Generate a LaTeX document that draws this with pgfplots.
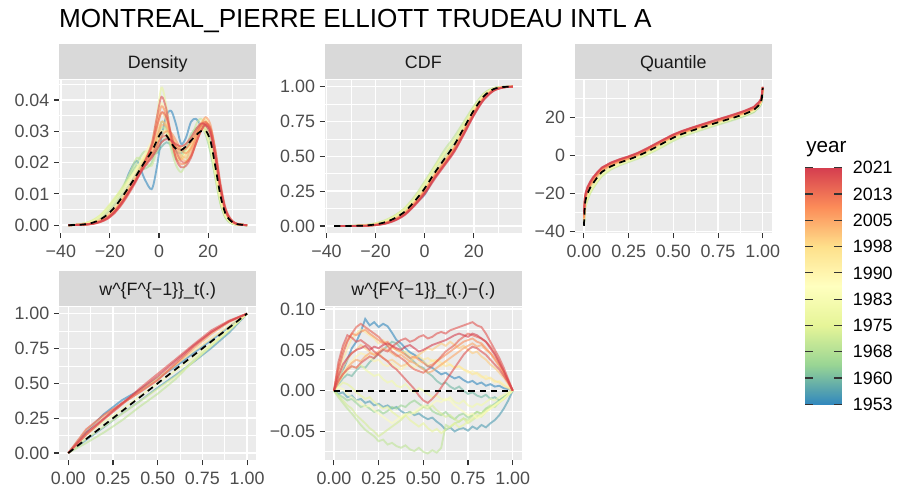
\documentclass[border=0pt]{standalone}
\usepackage{fontspec}
\setmainfont{Liberation Sans}
\usepackage{pgfplots}
\pgfplotsset{compat=1.18}
\usepackage{pgfplotstable}

% spectral palette, 1953 -> 2021
\definecolor{c0}{RGB}{50,136,189}
\definecolor{c1}{RGB}{153,213,148}
\definecolor{c2}{RGB}{230,245,152}
\definecolor{c3}{RGB}{255,255,191}
\definecolor{c4}{RGB}{254,224,139}
\definecolor{c5}{RGB}{252,141,89}
\definecolor{c6}{RGB}{213,62,79}
\definecolor{ggbg}{RGB}{235,235,235}
\definecolor{ggstrip}{RGB}{217,217,217}
\definecolor{gg33}{RGB}{51,51,51}
\definecolor{gg4d}{RGB}{77,77,77}
\definecolor{gg1a}{RGB}{26,26,26}

\newcommand\ticksize{\fontsize{13.4}{15}\selectfont}

\pgfplotsset{
  gg/.style={
    scale only axis, width=147.5pt, height=115pt, anchor=south west,
    axis background/.style={fill=ggbg},
    axis line style={draw=none},
    grid=both,
    major grid style={white, line width=1.1pt},
    minor grid style={white, line width=0.55pt},
    tick align=outside, tick pos=left,
    major tick length=4pt, minor tick length=0pt,
    tick style={gg33, line width=0.8pt},
    tick label style={font=\ticksize, text=gg4d, inner sep=0pt},
    xticklabel shift=4.8pt, yticklabel shift=3.3pt,
    scaled ticks=false,
    every axis title/.style={at={(0.5,1)}, anchor=south, fill=ggstrip,
      minimum width=147.5pt, minimum height=26.5pt, inner sep=0pt,
      text=gg1a, font=\ticksize, text height=9.6pt, text depth=0pt},
    no markers,
  },
  yr/.style={line width=1.4pt, opacity=0.6},
  mn/.style={black, line width=1.3pt, dash pattern=on 4.8pt off 3.6pt},
}

% density per year
\pgfplotstableread{
x y1 y2 y3 y4 y5 y6 y7 y8 y9 y10 y11 y12 y13 y14 mean
-36.9 0 0 0 0 0 0 0 0 0 0 0 0 0 0 0
-33 .0001 .0001 .0002 .0002 .0002 .0001 .0001 .0001 .0001 .0001 .0001 .0001 .0001 .0001 .0001
-30 .0003 .0004 .0005 .0006 .0007 .0005 .0004 .0003 .0003 .0002 .0002 .0002 .0002 .0002 .0003
-27 .0008 .0010 .0012 .0015 .0016 .0013 .0010 .0008 .0007 .0006 .0005 .0005 .0004 .0005 .0008
-24 .0020 .0022 .0025 .0030 .0032 .0028 .0022 .0018 .0016 .0013 .0011 .0012 .0010 .0011 .0018
-21 .0040 .0040 .0045 .0055 .0058 .0050 .0042 .0035 .0030 .0026 .0022 .0024 .0020 .0023 .0034
-18 .0070 .0065 .0072 .0085 .0088 .0078 .0070 .0060 .0052 .0048 .0042 .0045 .0040 .0044 .0058
-15 .0110 .0095 .0105 .0120 .0118 .0110 .0105 .0092 .0082 .0080 .0072 .0075 .0070 .0074 .0090
-12 .0170 .0130 .0150 .0165 .0150 .0148 .0142 .0130 .0120 .0118 .0110 .0112 .0108 .0110 .0125
-9 .0205 .0170 .0190 .0215 .0180 .0185 .0180 .0170 .0160 .0155 .0150 .0150 .0150 .0148 .0162
-6 .0150 .0210 .0180 .0200 .0215 .0220 .0225 .0215 .0205 .0190 .0200 .0190 .0200 .0185 .0200
-3 .0115 .0225 .0200 .0190 .0260 .0250 .0270 .0245 .0250 .0230 .0250 .0225 .0260 .0215 .0235
-1 .0180 .0230 .0260 .0240 .0340 .0275 .0330 .0270 .0300 .0275 .0320 .0255 .0340 .0240 .0268
1 .0280 .0250 .0330 .0310 .0440 .0300 .0390 .0300 .0360 .0320 .0380 .0280 .0410 .0265 .0297
3 .0350 .0265 .0310 .0300 .0380 .0290 .0350 .0300 .0330 .0315 .0350 .0285 .0370 .0275 .0287
5 .0365 .0255 .0250 .0240 .0280 .0265 .0270 .0280 .0260 .0280 .0270 .0270 .0280 .0270 .0262
7 .0320 .0235 .0210 .0190 .0225 .0250 .0220 .0260 .0220 .0245 .0215 .0250 .0210 .0258 .0243
9 .0260 .0230 .0215 .0170 .0220 .0250 .0210 .0245 .0210 .0215 .0195 .0240 .0185 .0252 .0240
11 .0280 .0245 .0250 .0200 .0240 .0260 .0230 .0245 .0225 .0205 .0200 .0245 .0190 .0260 .0252
13 .0330 .0275 .0290 .0265 .0270 .0280 .0265 .0260 .0250 .0220 .0225 .0265 .0215 .0280 .0270
15 .0340 .0305 .0310 .0320 .0300 .0300 .0300 .0285 .0285 .0260 .0270 .0295 .0260 .0305 .0287
17 .0320 .0320 .0315 .0340 .0310 .0310 .0330 .0300 .0320 .0300 .0315 .0320 .0300 .0325 .0300
19 .0300 .0315 .0290 .0310 .0300 .0295 .0340 .0310 .0335 .0320 .0330 .0330 .0320 .0320 .0302
21 .0250 .0270 .0230 .0240 .0250 .0245 .0300 .0280 .0300 .0305 .0305 .0300 .0300 .0290 .0268
23 .0170 .0180 .0150 .0150 .0165 .0160 .0195 .0195 .0210 .0230 .0225 .0215 .0225 .0215 .0185
25 .0085 .0085 .0070 .0070 .0080 .0080 .0090 .0100 .0110 .0125 .0120 .0115 .0125 .0120 .0095
27 .0035 .0030 .0025 .0025 .0030 .0030 .0035 .0040 .0045 .0050 .0050 .0048 .0052 .0050 .0038
29 .0012 .0010 .0008 .0008 .0010 .0010 .0012 .0015 .0017 .0018 .0018 .0018 .0020 .0019 .0015
31 .0004 .0003 .0002 .0002 .0003 .0003 .0004 .0005 .0006 .0006 .0006 .0006 .0007 .0006 .0005
33 .0001 .0001 .0001 .0001 .0001 .0001 .0001 .0002 .0002 .0002 .0002 .0002 .0002 .0002 .0002
35.9 0 0 0 0 0 0 0 0 0 0 0 0 0 0 0
}\dens

% more years of the density
\pgfplotstableread{
x z1 z2 z3 z4
-36.9 0 0 0 0
-33 .0001 .0001 .0001 .0002
-30 .0003 .0002 .0002 .0006
-27 .0007 .0005 .0004 .0014
-24 .0015 .0012 .0010 .0028
-21 .0029 .0025 .0021 .0050
-18 .0050 .0046 .0040 .0080
-15 .0080 .0076 .0068 .0115
-12 .0118 .0114 .0104 .0160
-9 .0158 .0152 .0145 .0200
-6 .0200 .0190 .0195 .0235
-3 .0240 .0220 .0250 .0230
-1 .0285 .0250 .0310 .0235
1 .0330 .0285 .0360 .0265
3 .0320 .0300 .0345 .0280
5 .0290 .0295 .0290 .0270
7 .0255 .0270 .0235 .0250
9 .0225 .0240 .0205 .0235
11 .0215 .0230 .0200 .0240
13 .0240 .0245 .0220 .0265
15 .0280 .0280 .0260 .0295
17 .0315 .0320 .0300 .0315
19 .0325 .0345 .0325 .0300
21 .0300 .0320 .0310 .0250
23 .0220 .0235 .0240 .0160
25 .0115 .0125 .0135 .0075
27 .0046 .0052 .0058 .0028
29 .0017 .0019 .0022 .0009
31 .0006 .0006 .0007 .0003
33 .0002 .0002 .0002 .0001
35.9 0 0 0 0
}\densb

% cdf per year
\pgfplotstableread{
x p1 p2 p3 p4 p5 p6 p7 p8 p9 p10 p11 mean
-36.9 0 0 0 0 0 0 0 0 0 0 0 0
-32 .0003 .0004 .0005 .0005 .0004 .0003 .0002 .0002 .0002 .0002 .0001 .0003
-28 .001 .0015 .002 .002 .0015 .001 .0008 .0007 .0006 .0006 .0005 .001
-24 .004 .006 .008 .007 .005 .004 .003 .0025 .002 .002 .002 .004
-20 .013 .016 .020 .018 .014 .012 .010 .009 .008 .007 .007 .012
-16 .030 .036 .042 .040 .032 .028 .024 .022 .020 .019 .018 .028
-12 .062 .068 .078 .075 .064 .058 .052 .048 .045 .043 .042 .058
-8 .110 .118 .132 .128 .112 .105 .097 .092 .088 .085 .084 .105
-4 .165 .195 .215 .205 .188 .178 .170 .163 .158 .155 .152 .180
0 .225 .285 .320 .300 .280 .268 .262 .252 .245 .240 .235 .270
4 .355 .395 .430 .420 .390 .375 .370 .360 .355 .345 .342 .380
8 .480 .500 .545 .520 .490 .475 .465 .455 .448 .440 .438 .480
12 .590 .600 .640 .615 .590 .575 .565 .555 .548 .540 .535 .580
16 .720 .720 .750 .735 .715 .700 .690 .680 .672 .668 .662 .705
20 .850 .845 .860 .850 .838 .828 .820 .810 .805 .800 .795 .830
24 .945 .940 .950 .945 .935 .928 .922 .915 .912 .910 .905 .930
28 .988 .986 .990 .988 .984 .980 .978 .975 .974 .972 .970 .982
32 .998 .998 .998 .998 .997 .996 .996 .995 .995 .994 .994 .997
35.9 1 1 1 1 1 1 1 1 1 1 1 1
}\cdf

\pgfplotstableread{
x p12 p13 p14 p15
-36.9 0 0 0 0
-32 .0002 .0002 .0001 .0005
-28 .0008 .0006 .0005 .0018
-24 .003 .0022 .0018 .0065
-20 .011 .0085 .0065 .017
-16 .026 .021 .017 .038
-12 .054 .046 .040 .072
-8 .100 .090 .080 .124
-4 .172 .160 .148 .200
0 .258 .250 .230 .305
4 .362 .352 .335 .415
8 .462 .450 .432 .515
12 .562 .550 .530 .610
16 .688 .676 .658 .728
20 .818 .808 .792 .848
24 .920 .914 .903 .943
28 .977 .974 .969 .988
32 .996 .995 .994 .998
35.9 1 1 1 1
}\cdfb

% quantile per year
\pgfplotstableread{
t q1 q2 q3 q4 q5 q6 q7 q8 q9 q10 q11 mean
0 -35 -36 -37 -36.5 -37 -36 -34 -33 -32 -31 -30 -37
.005 -27 -28 -29 -28.5 -27 -26 -25 -24 -23.5 -23 -22.5 -26
.01 -24 -25 -26.5 -26 -24 -23 -22 -21 -20.5 -20 -19.5 -23
.02 -21 -22 -23.5 -23 -21 -20 -19 -18.2 -17.5 -17 -16.5 -20
.035 -17.5 -18.5 -20 -19.5 -18 -17 -16 -15.2 -14.6 -14.2 -13.8 -17
.05 -15 -16 -17.5 -17 -15.8 -14.7 -13.8 -13.0 -12.4 -12 -11.6 -14.8
.075 -11.5 -12.5 -14 -13.5 -12.5 -11.4 -10.6 -10.0 -9.4 -9.1 -8.8 -11.5
.1 -8.5 -9.8 -11 -10.5 -9.6 -8.6 -7.9 -7.4 -6.9 -6.6 -6.4 -8.7
.15 -5.2 -6.5 -7.5 -7.0 -6.5 -5.7 -5.1 -4.7 -4.3 -4.0 -3.8 -5.8
.2 -3.0 -4.3 -5.2 -4.8 -4.4 -3.7 -3.2 -2.8 -2.5 -2.2 -2.0 -3.8
.25 -1.5 -2.6 -3.5 -3.0 -2.7 -2.1 -1.7 -1.3 -1.0 -0.7 -0.5 -2.2
.3 0.0 -0.9 -1.8 -1.4 -1.0 -0.3 0.1 0.5 0.8 1.0 1.3 -0.4
.35 1.8 1.2 0.2 0.6 1.2 1.9 2.4 2.8 3.1 3.3 3.6 1.8
.4 3.8 3.6 2.5 3.0 3.6 4.3 4.9 5.3 5.6 5.8 6.1 4.2
.45 6.0 6.2 5.0 5.6 6.2 6.9 7.5 7.9 8.2 8.4 8.6 6.8
.5 8.6 8.8 7.6 8.2 8.8 9.4 10.0 10.3 10.6 10.8 11.0 9.3
.55 10.8 10.8 9.8 10.4 10.9 11.4 11.9 12.2 12.5 12.7 12.9 11.3
.6 12.5 12.4 11.5 12.1 12.5 13.0 13.5 13.8 14.1 14.3 14.5 12.9
.65 14.0 13.9 13.1 13.7 14.0 14.5 15.0 15.3 15.6 15.8 16.0 14.4
.7 15.3 15.4 14.6 15.2 15.5 16.0 16.5 16.8 17.1 17.3 17.5 15.9
.75 16.7 16.9 16.1 16.7 17.0 17.5 18.0 18.3 18.6 18.8 19.0 17.4
.8 18.0 18.3 17.5 18.1 18.4 18.9 19.4 19.7 20.0 20.2 20.4 18.8
.85 19.5 19.7 19.0 19.6 19.9 20.3 20.8 21.1 21.4 21.7 21.9 20.2
.9 21.0 21.2 20.6 21.2 21.5 21.9 22.4 22.7 23.0 23.3 23.5 21.8
.95 23.0 23.2 22.6 23.2 23.5 23.9 24.4 24.7 25.0 25.3 25.5 23.8
.98 25.5 25.8 25.2 25.8 26.2 26.6 27.0 27.3 27.6 27.9 28.2 26.5
.99 27 27.5 26.8 27.4 27.8 28.2 28.5 28.8 29.1 29.4 29.7 28
.995 29 29.5 28.8 29.4 29.8 30.2 30.5 30.8 31 31.5 31.8 30
1 34 35 34.5 35 35.5 35.5 35.8 35.8 36 36 36 35.5
}\qnt

\pgfplotstableread{
t r12 r13 r14 r15
0 -34 -33 -30.5 -37
.005 -25 -24.5 -22.8 -28
.01 -22 -21.5 -19.8 -25.5
.02 -19 -18.5 -16.8 -22.5
.035 -16 -15.5 -14.0 -19
.05 -13.9 -13.3 -11.8 -16.6
.075 -10.7 -10.2 -9.0 -13.2
.1 -8.0 -7.6 -6.5 -10.2
.15 -5.2 -4.9 -3.9 -6.8
.2 -3.3 -3.0 -2.1 -4.6
.25 -1.8 -1.5 -0.6 -2.9
.3 0.0 0.3 1.2 -1.2
.35 2.3 2.6 3.5 0.8
.4 4.8 5.1 6.0 3.2
.45 7.4 7.7 8.5 5.8
.5 9.9 10.1 10.9 8.4
.55 11.8 12.0 12.8 10.6
.6 13.4 13.6 14.4 12.3
.65 14.9 15.1 15.9 13.8
.7 16.4 16.6 17.4 15.3
.75 17.9 18.1 18.9 16.8
.8 19.3 19.5 20.3 18.2
.85 20.7 20.9 21.8 19.7
.9 22.3 22.5 23.4 21.3
.95 24.3 24.5 25.4 23.3
.98 26.9 27.1 28.0 26.0
.99 28.4 28.6 29.5 27.6
.995 30.4 30.6 31.6 29.6
1 35.5 35.8 36 35
}\qntb

% w_t per year
\pgfplotstableread{
t w1 w2 w3 w4 w5 w6 w7 w8 w9 w10
0 0 0 0 0 0 0 0 0 0 0
.1 .152 .094 .072 .104 .130 .164 .134 .130 .170 .146
.2 .280 .187 .148 .192 .222 .268 .246 .242 .274 .250
.3 .379 .282 .234 .280 .310 .356 .350 .348 .355 .358
.4 .452 .372 .333 .370 .408 .448 .440 .464 .436 .454
.5 .536 .468 .425 .460 .500 .538 .526 .568 .522 .550
.6 .620 .558 .530 .548 .590 .634 .632 .672 .642 .660
.7 .717 .653 .662 .655 .684 .730 .748 .778 .762 .770
.8 .808 .753 .774 .770 .784 .822 .854 .880 .866 .868
.9 .905 .864 .880 .882 .888 .912 .940 .950 .946 .944
1 1 1 1 1 1 1 1 1 1 1
}\wt

% w_t - t per year
\pgfplotstableread{
t d1 d2 d3 d4 d5 d6 d7 d8 d9 d10 d11 d12 d13 d14 d15 d16 d17 d18
0 0 0 0 0 0 0 0 0 0 0 0 0 0 0 0 0 0 0
.025 .012 -.004 .008 -.005 -.008 -.006 .005 .010 .004 .012 .020 .015 .010 .030 .012 .025 .035 .018
.05 .025 -.002 .015 -.008 -.015 -.012 .010 .018 .002 .022 .038 .028 .020 .050 .020 .045 .055 .032
.075 .038 -.008 .020 -.012 -.022 -.018 .008 .024 -.004 .030 .052 .038 .028 .062 .026 .060 .068 .040
.1 .052 -.006 .018 -.010 -.028 -.022 .004 .030 -.008 .036 .064 .046 .034 .070 .030 .070 .065 .046
.125 .060 -.012 .025 -.015 -.035 -.030 -.002 .028 -.012 .042 .070 .050 .038 .068 .028 .078 .060 .050
.15 .072 -.010 .030 -.020 -.042 -.035 -.006 .032 -.015 .046 .075 .056 .036 .072 .034 .082 .062 .052
.175 .088 -.015 .028 -.018 -.048 -.040 -.010 .026 -.020 .044 .072 .052 .042 .075 .038 .078 .058 .055
.2 .080 -.013 .035 -.022 -.052 -.046 -.008 .022 -.018 .040 .068 .048 .046 .070 .042 .074 .054 .050
.225 .084 -.018 .040 -.026 -.056 -.050 -.014 .018 -.024 .036 .064 .044 .044 .066 .040 .070 .048 .054
.25 .078 -.016 .045 -.024 -.062 -.056 -.018 .020 -.028 .038 .058 .046 .048 .062 .046 .066 .044 .052
.275 .082 -.020 .050 -.028 -.060 -.052 -.022 .014 -.032 .032 .062 .040 .052 .058 .050 .060 .040 .056
.3 .079 -.018 .055 -.025 -.066 -.048 -.020 .010 -.036 .030 .056 .036 .050 .060 .048 .055 .036 .058
.325 .071 -.022 .060 -.020 -.064 -.044 -.026 .012 -.040 .034 .052 .038 .046 .054 .054 .048 .030 .055
.35 .062 -.020 .058 -.022 -.068 -.040 -.030 .006 -.036 .028 .050 .034 .042 .050 .058 .044 .026 .052
.375 .058 -.025 .052 -.018 -.070 -.036 -.034 .004 -.032 .026 .046 .030 .044 .048 .062 .040 .020 .050
.4 .052 -.028 .045 -.020 -.067 -.030 -.030 .008 -.028 .030 .048 .032 .040 .044 .064 .036 .014 .054
.425 .047 -.026 .040 -.015 -.072 -.026 -.036 .002 -.030 .032 .044 .036 .036 .040 .060 .030 .008 .056
.45 .044 -.030 .035 -.012 -.074 -.028 -.040 -.002 -.026 .028 .040 .040 .034 .042 .062 .026 .002 .052
.475 .040 -.028 .030 -.016 -.070 -.024 -.044 .003 -.022 .034 .042 .044 .030 .038 .066 .024 -.006 .048
.5 .036 -.032 .028 -.020 -.075 -.020 -.040 .000 -.018 .036 .038 .048 .026 .034 .068 .022 -.012 .050
.525 .030 -.035 .022 -.018 -.077 -.022 -.046 -.004 -.020 .032 .040 .052 .022 .030 .064 .026 -.015 .053
.55 .028 -.033 .018 -.025 -.073 -.018 -.050 -.008 -.016 .038 .036 .050 .024 .032 .066 .030 -.010 .056
.575 .024 -.038 .012 -.028 -.076 -.024 -.047 -.006 -.012 .034 .038 .054 .028 .036 .070 .036 -.004 .058
.6 .020 -.042 .008 -.030 -.070 -.028 -.052 -.010 -.014 .030 .034 .058 .032 .040 .072 .042 .004 .060
.625 .022 -.048 .010 -.026 -.042 -.032 -.048 -.012 -.010 .036 .030 .055 .036 .044 .070 .048 .012 .062
.65 .018 -.045 .005 -.032 -.045 -.030 -.044 -.008 -.012 .032 .032 .060 .040 .048 .074 .052 .020 .065
.675 .015 -.050 .002 -.035 -.040 -.035 -.040 -.014 -.018 .028 .028 .056 .044 .052 .076 .056 .028 .068
.7 .017 -.047 .005 -.030 -.038 -.038 -.045 -.016 -.022 .030 .030 .052 .048 .056 .078 .062 .036 .070
.725 .013 -.046 .000 -.028 -.034 -.034 -.042 -.012 -.026 .026 .026 .055 .052 .060 .080 .066 .044 .068
.75 .010 -.049 -.004 -.033 -.036 -.040 -.038 -.018 -.030 .022 .024 .050 .055 .062 .082 .070 .050 .066
.775 .012 -.044 -.002 -.030 -.030 -.036 -.034 -.020 -.028 .024 .020 .046 .058 .064 .084 .068 .054 .070
.8 .008 -.047 -.006 -.026 -.026 -.032 -.030 -.016 -.034 .020 .022 .048 .054 .060 .080 .066 .052 .068
.825 .010 -.042 -.008 -.028 -.028 -.028 -.032 -.018 -.030 .016 .018 .042 .056 .058 .078 .064 .048 .064
.85 .006 -.045 -.005 -.022 -.022 -.025 -.026 -.014 -.026 .018 .014 .038 .050 .052 .070 .060 .044 .060
.875 .008 -.040 -.010 -.020 -.018 -.020 -.022 -.010 -.022 .014 .016 .032 .046 .046 .060 .054 .038 .052
.9 .005 -.036 -.008 -.016 -.020 -.018 -.018 -.012 -.018 .010 .012 .028 .040 .038 .050 .046 .032 .044
.925 .006 -.030 -.012 -.012 -.014 -.014 -.014 -.008 -.014 .012 .010 .022 .032 .030 .040 .036 .026 .034
.95 .003 -.022 -.008 -.008 -.010 -.010 -.010 -.005 -.010 .008 .006 .016 .022 .020 .028 .024 .018 .024
.975 .002 -.012 -.004 -.004 -.005 -.005 -.004 -.002 -.005 .004 .003 .008 .012 .010 .014 .012 .010 .012
1 0 0 0 0 0 0 0 0 0 0 0 0 0 0 0 0 0 0
}\wdif

\begin{document}
\begin{tikzpicture}
\path[use as bounding box] (0,0) rectangle (672.75pt,-368.25pt);

% ---- Density
\begin{axis}[gg, at={(44.5pt,-174.75pt)},
  xmin=-40.6, xmax=39.5, ymin=-0.0025, ymax=0.0465,
  xtick={-40,-20,0,20}, xticklabels={−40,−20,0,20}, minor xtick={-30,-10,10,30},
  ytick={0,0.01,0.02,0.03,0.04}, yticklabels={0.00,0.01,0.02,0.03,0.04},
  minor ytick={0.005,0.015,0.025,0.035,0.045},
  title={Density}]
\addplot[yr, smooth, color=c0] table[x=x, y=y1] {\dens};
\addplot[yr, smooth, color=c1!53!c0] table[x=x, y=y2] {\dens};
\addplot[yr, smooth, color=c1] table[x=x, y=y3] {\dens};
\addplot[yr, smooth, color=c2!32!c1] table[x=x, y=z4] {\densb};
\addplot[yr, smooth, color=c2!59!c1] table[x=x, y=y4] {\dens};
\addplot[yr, smooth, color=c2!88!c3] table[x=x, y=y5] {\dens};
\addplot[yr, smooth, color=c3!65!c2] table[x=x, y=y6] {\dens};
\addplot[yr, smooth, color=c3!82!c4] table[x=x, y=y7] {\dens};
\addplot[yr, smooth, color=c4!71!c3] table[x=x, y=y8] {\dens};
\addplot[yr, smooth, color=c4!85!c5] table[x=x, y=y9] {\dens};
\addplot[yr, smooth, color=c5!41!c4] table[x=x, y=z1] {\densb};
\addplot[yr, smooth, color=c5!59!c4] table[x=x, y=y10] {\dens};
\addplot[yr, smooth, color=c5!85!c4] table[x=x, y=z2] {\densb};
\addplot[yr, smooth, color=c5] table[x=x, y=y11] {\dens};
\addplot[yr, smooth, color=c6!38!c5] table[x=x, y=y12] {\dens};
\addplot[yr, smooth, color=c6!56!c5] table[x=x, y=z3] {\densb};
\addplot[yr, smooth, color=c6!74!c5] table[x=x, y=y13] {\dens};
\addplot[yr, smooth, color=c6] table[x=x, y=y14] {\dens};
\addplot[mn, smooth] table[x=x, y=mean] {\dens};
\end{axis}

% ---- CDF
\begin{axis}[gg, at={(243.75pt,-174.75pt)},
  xmin=-40.6, xmax=39.5, ymin=-0.05, ymax=1.05,
  xtick={-40,-20,0,20}, xticklabels={−40,−20,0,20}, minor xtick={-30,-10,10,30},
  ytick={0,0.25,0.5,0.75,1}, yticklabels={0.00,0.25,0.50,0.75,1.00},
  minor ytick={0.125,0.375,0.625,0.875},
  title={CDF}]
\addplot[yr, smooth, color=c0] table[x=x, y=p1] {\cdf};
\addplot[yr, smooth, color=c1!79!c0] table[x=x, y=p2] {\cdf};
\addplot[yr, smooth, color=c1!50!c2] table[x=x, y=p3] {\cdf};
\addplot[yr, smooth, color=c2] table[x=x, y=p4] {\cdf};
\addplot[yr, smooth, color=c3!29!c2] table[x=x, y=p15] {\cdfb};
\addplot[yr, smooth, color=c3!82!c2] table[x=x, y=p5] {\cdf};
\addplot[yr, smooth, color=c4!53!c3] table[x=x, y=p6] {\cdf};
\addplot[yr, smooth, color=c4!85!c5] table[x=x, y=p7] {\cdf};
\addplot[yr, smooth, color=c5!53!c4] table[x=x, y=p12] {\cdfb};
\addplot[yr, smooth, color=c5!76!c4] table[x=x, y=p8] {\cdf};
\addplot[yr, smooth, color=c5] table[x=x, y=p13] {\cdfb};
\addplot[yr, smooth, color=c6!21!c5] table[x=x, y=p9] {\cdf};
\addplot[yr, smooth, color=c6!56!c5] table[x=x, y=p10] {\cdf};
\addplot[yr, smooth, color=c6!82!c5] table[x=x, y=p14] {\cdfb};
\addplot[yr, smooth, color=c6] table[x=x, y=p11] {\cdf};
\addplot[mn, smooth] table[x=x, y=mean] {\cdf};
\end{axis}

% ---- Quantile
\begin{axis}[gg, at={(431.25pt,-174.75pt)},
  xmin=-0.05, xmax=1.05, ymin=-40.8, ymax=39.8,
  xtick={0,0.25,0.5,0.75,1}, xticklabels={0.00,0.25,0.50,0.75,1.00},
  minor xtick={0.125,0.375,0.625,0.875},
  ytick={-40,-20,0,20}, yticklabels={−40,−20,0,20}, minor ytick={-30,-10,10,30},
  title={Quantile}]
\addplot[yr, color=c0] table[x=t, y=q1] {\qnt};
\addplot[yr, color=c1!79!c0] table[x=t, y=q2] {\qnt};
\addplot[yr, color=c1!50!c2] table[x=t, y=q3] {\qnt};
\addplot[yr, color=c2] table[x=t, y=q4] {\qnt};
\addplot[yr, color=c3!29!c2] table[x=t, y=r15] {\qntb};
\addplot[yr, color=c3!82!c2] table[x=t, y=q5] {\qnt};
\addplot[yr, color=c4!53!c3] table[x=t, y=q6] {\qnt};
\addplot[yr, color=c4!85!c5] table[x=t, y=q7] {\qnt};
\addplot[yr, color=c5!53!c4] table[x=t, y=r12] {\qntb};
\addplot[yr, color=c5!76!c4] table[x=t, y=q8] {\qnt};
\addplot[yr, color=c5] table[x=t, y=r13] {\qntb};
\addplot[yr, color=c6!21!c5] table[x=t, y=q9] {\qnt};
\addplot[yr, color=c6!56!c5] table[x=t, y=q10] {\qnt};
\addplot[yr, color=c6!82!c5] table[x=t, y=r14] {\qntb};
\addplot[yr, color=c6] table[x=t, y=q11] {\qnt};
\addplot[mn] table[x=t, y=mean] {\qnt};
\end{axis}

% ---- w_t
\begin{axis}[gg, at={(44.5pt,-345pt)},
  xmin=-0.05, xmax=1.05, ymin=-0.05, ymax=1.05,
  xtick={0,0.25,0.5,0.75,1}, xticklabels={0.00,0.25,0.50,0.75,1.00},
  minor xtick={0.125,0.375,0.625,0.875},
  ytick={0,0.25,0.5,0.75,1}, yticklabels={0.00,0.25,0.50,0.75,1.00},
  minor ytick={0.125,0.375,0.625,0.875},
  title={w\textasciicircum\{F\textasciicircum\{−1\}\}\_t(.)}]
\addplot[yr, color=c0] table[x=t, y=w1] {\wt};
\addplot[yr, color=c0!74!c1] table[x=t, y=w2] {\wt};
\addplot[yr, color=c1!50!c2] table[x=t, y=w3] {\wt};
\addplot[yr, color=c2!88!c3] table[x=t, y=w4] {\wt};
\addplot[yr, color=c3!47!c2] table[x=t, y=w5] {\wt};
\addplot[yr, color=c4!79!c3] table[x=t, y=w6] {\wt};
\addplot[yr, color=c5!68!c4] table[x=t, y=w7] {\wt};
\addplot[yr, color=c6!70!c5] table[x=t, y=w8] {\wt};
\addplot[yr, color=c6!56!c5] table[x=t, y=w9] {\wt};
\addplot[yr, color=c6] table[x=t, y=w10] {\wt};
\addplot[mn] coordinates {(0,0) (1,1)};
\end{axis}

% ---- w_t - t
\begin{axis}[gg, at={(243.75pt,-345pt)},
  xmin=-0.05, xmax=1.05, ymin=-0.085, ymax=0.103,
  xtick={0,0.25,0.5,0.75,1}, xticklabels={0.00,0.25,0.50,0.75,1.00},
  minor xtick={0.125,0.375,0.625,0.875},
  ytick={-0.05,0,0.05,0.1}, yticklabels={−0.05,0.00,0.05,0.10},
  minor ytick={-0.075,-0.025,0.025,0.075},
  title={w\textasciicircum\{F\textasciicircum\{−1\}\}\_t(.)−(.)}]
\addplot[yr, color=c0] table[x=t, y=d1] {\wdif};
\addplot[yr, color=c0!74!c1] table[x=t, y=d2] {\wdif};
\addplot[yr, color=c1!62!c0] table[x=t, y=d3] {\wdif};
\addplot[yr, color=c1] table[x=t, y=d4] {\wdif};
\addplot[yr, color=c1!50!c2] table[x=t, y=d5] {\wdif};
\addplot[yr, color=c2!76!c1] table[x=t, y=d6] {\wdif};
\addplot[yr, color=c2!88!c3] table[x=t, y=d7] {\wdif};
\addplot[yr, color=c3!47!c2] table[x=t, y=d8] {\wdif};
\addplot[yr, color=c3!91!c2] table[x=t, y=d9] {\wdif};
\addplot[yr, color=c3!65!c4] table[x=t, y=d10] {\wdif};
\addplot[yr, color=c4!79!c3] table[x=t, y=d11] {\wdif};
\addplot[yr, color=c4!76!c5] table[x=t, y=d12] {\wdif};
\addplot[yr, color=c5!68!c4] table[x=t, y=d13] {\wdif};
\addplot[yr, color=c5] table[x=t, y=d14] {\wdif};
\addplot[yr, color=c6!70!c5] table[x=t, y=d15] {\wdif};
\addplot[yr, color=c6!56!c5] table[x=t, y=d16] {\wdif};
\addplot[yr, color=c6!74!c5] table[x=t, y=d17] {\wdif};
\addplot[yr, color=c6] table[x=t, y=d18] {\wdif};
\addplot[mn] coordinates {(0,0) (1,0)};
\end{axis}

% ---- colour bar
\begin{axis}[at={(603.75pt,-303.2pt)}, anchor=south west, scale only axis,
  width=27.5pt, height=177.4pt, xmin=0, xmax=1, ymin=1953, ymax=2021,
  axis line style={draw=none}, xtick=\empty,
  ytick={1953,1960.556,1968.111,1975.667,1983.222,1990.778,1998.333,2005.889,2013.444,2021},
  yticklabels={1953,1960,1968,1975,1983,1990,1998,2005,2013,2021},
  ytick pos=both, yticklabel pos=right, tick align=inside, major tick length=6pt,
  tick style={gg33, line width=0.8pt},
  yticklabel style={font=\ticksize, text=black, inner sep=0pt, anchor=west},
  yticklabel shift=8.25pt, axis on top,
  colormap={spectral}{rgb255=(50,136,189) rgb255=(153,213,148) rgb255=(230,245,152) rgb255=(255,255,191) rgb255=(254,224,139) rgb255=(252,141,89) rgb255=(213,62,79)},
  point meta min=1953, point meta max=2021]
\addplot[surf, shader=interp, point meta=y, mesh/cols=2] coordinates {(0,1953) (1,1953) (0,2021) (1,2021)};
\end{axis}

\node[anchor=base west, inner sep=0pt, font=\fontsize{15.5}{18}\selectfont] at (604.5pt,-114.5pt) {year};
\node[anchor=base west, inner sep=0pt, font=\fontsize{19.6}{23}\selectfont] at (44.1pt,-20.5pt) {MONTREAL\_PIERRE ELLIOTT TRUDEAU INTL A};
\end{tikzpicture}
\end{document}
